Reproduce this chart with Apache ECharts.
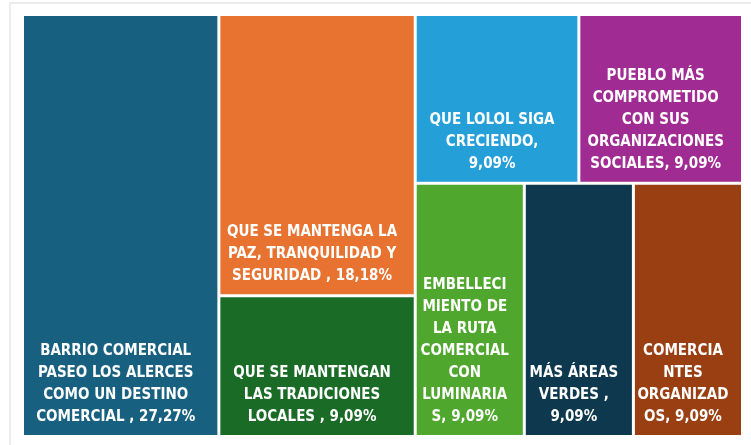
<!DOCTYPE html>
<html>
<head>
<meta charset="utf-8">
<style>
  html, body { margin: 0; padding: 0; background: #fff; }
  #chart { width: 751px; height: 445px; }
</style>
<script src="https://cdn.jsdelivr.net/npm/echarts@6/dist/echarts.min.js"></script>
</head>
<body>
<div id="chart"></div>
<script>
const categories = [
  "BARRIO COMERCIAL PASEO LOS ALERCES COMO UN DESTINO COMERCIAL",
  "QUE SE MANTENGA LA PAZ, TRANQUILIDAD Y SEGURIDAD",
  "QUE SE MANTENGAN LAS TRADICIONES LOCALES",
  "QUE LOLOL SIGA CRECIENDO",
  "PUEBLO MÁS COMPROMETIDO CON SUS ORGANIZACIONES SOCIALES",
  "EMBELLECIMIENTO DE LA RUTA COMERCIAL CON LUMINARIAS",
  "MÁS ÁREAS VERDES",
  "COMERCIANTES ORGANIZADOS",
];
const values = [27.27, 18.18, 9.09, 9.09, 9.09, 9.09, 9.09, 9.09];
const labels = [
  "BARRIO COMERCIAL\nPASEO LOS ALERCES\nCOMO UN DESTINO\nCOMERCIAL , 27,27%",
  "QUE SE MANTENGA LA\nPAZ, TRANQUILIDAD Y\nSEGURIDAD , 18,18%",
  "QUE SE MANTENGAN\nLAS TRADICIONES\nLOCALES , 9,09%",
  "QUE LOLOL SIGA\nCRECIENDO,\n9,09%",
  "PUEBLO MÁS\nCOMPROMETIDO\nCON SUS\nORGANIZACIONES\nSOCIALES, 9,09%",
  "EMBELLECI\nMIENTO DE\nLA RUTA\nCOMERCIAL\nCON\nLUMINARIA\nS, 9,09%",
  "MÁS ÁREAS\nVERDES ,\n9,09%",
  "COMERCIA\nNTES\nORGANIZAD\nOS, 9,09%",
];
const colors = ["#18607f", "#e8722f", "#1a6b25", "#249fd8", "#a02b92", "#4fa72e", "#0d384d", "#993f12"];

// how the tiles are grouped (indexes into the arrays above)
const nesting = [0, [[1, 2], [[3, 4], [5, [6, 7]]]]];

function buildNode(entry) {
  if (Array.isArray(entry)) {
    return { name: "", children: entry.map(buildNode), itemStyle: { borderWidth: 0 } };
  }
  return {
    name: categories[entry],
    value: values[entry],
    itemStyle: { color: colors[entry], borderWidth: 1.5, borderColor: "#fff" },
  };
}

const chart = echarts.init(document.getElementById("chart"));

chart.setOption({
  animation: false,
  graphic: [
    {
      type: "rect",
      shape: { x: 10, y: 3, width: 800, height: 500 },
      style: { fill: "none", stroke: "#e8e8e8", lineWidth: 1.5 },
      silent: true,
    },
  ],
  series: [
    {
      type: "treemap",
      left: 22.5,
      top: 14.5,
      width: 720,
      height: 422,
      sort: false,
      squareRatio: 1.2,
      roam: false,
      nodeClick: false,
      breadcrumb: { show: false },
      label: {
        show: true,
        position: "insideBottom",
        distance: 0,
        padding: [0, 10, 7, 0],
        overflow: "none",
        color: "#fff",
        fontFamily: "'Liberation Sans Narrow', 'DejaVu Sans Condensed', sans-serif",
        fontWeight: "bold",
        fontSize: 15,
        lineHeight: 22,
        formatter: (p) => labels[categories.indexOf(p.name)],
      },
      data: nesting.map(buildNode),
    },
  ],
});
</script>
</body>
</html>
